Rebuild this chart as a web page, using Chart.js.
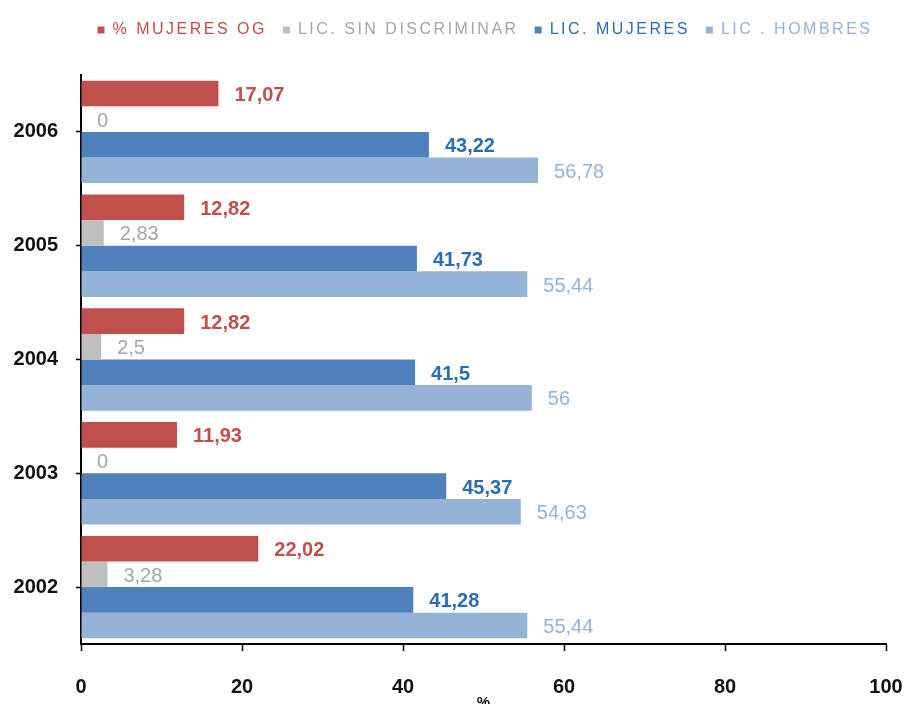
<!DOCTYPE html>
<html>
<head>
<meta charset="utf-8">
<script src="https://cdn.jsdelivr.net/npm/chart.js@4/dist/chart.umd.min.js"></script>
<style>
    html, body { margin: 0; padding: 0; background: #fff; }
    #wrap { width: 911px; height: 704px; }
</style>
</head>
<body>
<div id="wrap"><canvas id="chart" width="911" height="704"></canvas></div>
<script>
const years = ["2006", "2005", "2004", "2003", "2002"];
const xTicks = [0, 20, 40, 60, 80, 100];

const mujeresOG = [17.07, 12.82, 12.82, 11.93, 22.02];
const sinDiscriminar = [0, 2.83, 2.5, 0, 3.28];
const licMujeres = [43.22, 41.73, 41.5, 45.37, 41.28];
const licHombres = [56.78, 55.44, 56, 54.63, 55.44];

const seriesNames = ["% MUJERES OG", "LIC. SIN DISCRIMINAR", "LIC. MUJERES", "LIC . HOMBRES"];
const barColors = ["#c0504d", "#bfbfbf", "#4f81bd", "#95b3d7"];
const textColors = ["#c0504d", "#a6a6a6", "#2a6cb5", "#95b3d7"];
const labelWeights = ["bold", "normal", "bold", "normal"];

const FONT = "'Liberation Sans', Arial, sans-serif";

// value labels at the end of each bar
const valueLabels = {
    id: "valueLabels",
    afterDatasetsDraw(chart) {
        const ctx = chart.ctx;
        ctx.save();
        ctx.textAlign = "left";
        ctx.textBaseline = "middle";
        chart.data.datasets.forEach((ds, i) => {
            const meta = chart.getDatasetMeta(i);
            ctx.fillStyle = textColors[i];
            ctx.font = labelWeights[i] + " 20px " + FONT;
            meta.data.forEach((bar, j) => {
                const txt = String(ds.data[j]).replace(".", ",");
                ctx.fillText(txt, bar.x + 16, bar.y + 2);
            });
        });
        ctx.restore();
    }
};

// legend: wider letter spacing, a bit to the right, and the plot area pushed down below it
const legendTweaks = {
    id: "legendTweaks",
    beforeInit(chart) {
        const lg = chart.legend;
        const fit = lg.fit;
        const draw = lg.draw;
        lg.fit = function () {
            chart.ctx.letterSpacing = "2.5px";
            fit.bind(lg)();
            chart.ctx.letterSpacing = "0px";
            this.height += 27;
        };
        lg.draw = function () {
            const ctx = chart.ctx;
            ctx.save();
            ctx.translate(42, 0);
            ctx.letterSpacing = "2.5px";
            draw.bind(lg)();
            ctx.letterSpacing = "0px";
            ctx.restore();
        };
    }
};

const datasets = [mujeresOG, sinDiscriminar, licMujeres, licHombres].map((vals, i) => ({
    label: seriesNames[i],
    data: vals,
    backgroundColor: barColors[i],
    borderWidth: 0,
    categoryPercentage: 0.9,
    barPercentage: 1.0
}));

new Chart(document.getElementById("chart").getContext("2d"), {
    type: "bar",
    data: { labels: years, datasets: datasets },
    plugins: [valueLabels, legendTweaks],
    options: {
        indexAxis: "y",
        responsive: false,
        animation: false,
        layout: { padding: { top: 6, left: 0, right: 25, bottom: 0 } },
        plugins: {
            tooltip: { enabled: false },
            legend: {
                position: "top",
                labels: {
                    boxWidth: 7,
                    boxHeight: 7,
                    padding: 16,
                    font: { family: FONT, size: 16 },
                    generateLabels(chart) {
                        return chart.data.datasets.map((ds, i) => ({
                            text: ds.label,
                            fillStyle: barColors[i],
                            strokeStyle: barColors[i],
                            lineWidth: 0,
                            fontColor: textColors[i],
                            datasetIndex: i,
                            hidden: false
                        }));
                    }
                }
            }
        },
        scales: {
            x: {
                min: 0,
                max: 100,
                afterBuildTicks(scale) {
                    scale.ticks = xTicks.map(v => ({ value: v }));
                },
                afterFit(scale) {
                    scale.height = 60;
                    scale.paddingLeft = 0;
                    scale.paddingRight = 0;
                },
                grid: {
                    drawOnChartArea: false,
                    drawTicks: true,
                    tickLength: 7,
                    tickWidth: 1.5,
                    tickColor: "#000"
                },
                border: { color: "#000", width: 2 },
                ticks: {
                    padding: 24,
                    color: "#111",
                    font: { family: FONT, size: 20, weight: "bold" }
                },
                title: {
                    display: true,
                    text: "%",
                    color: "#111",
                    padding: { top: 0, bottom: -8 },
                    font: { family: FONT, size: 15, weight: "bold" }
                }
            },
            y: {
                afterFit(scale) { scale.width = 81; },
                grid: {
                    offset: false,
                    drawOnChartArea: false,
                    drawTicks: true,
                    tickLength: 5,
                    tickWidth: 1.5,
                    tickColor: "#000"
                },
                border: { color: "#000", width: 2 },
                ticks: {
                    padding: 18,
                    color: "#111",
                    font: { family: FONT, size: 20, weight: "bold" }
                }
            }
        }
    }
});
</script>
</body>
</html>
